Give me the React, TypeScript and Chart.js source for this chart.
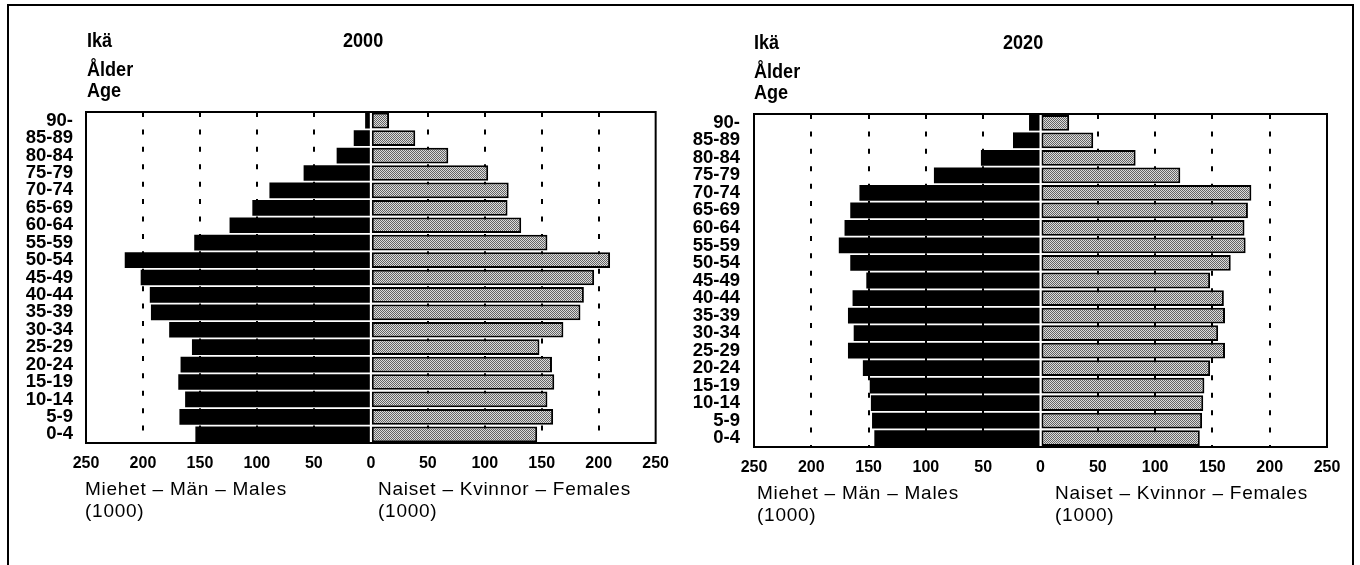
import React, { useEffect, useRef } from "react";
import { Chart, registerables } from "chart.js";

Chart.register(...registerables);

// Age groups, top to bottom
const ageGroups = [
  "90-", "85-89", "80-84", "75-79", "70-74", "65-69", "60-64", "55-59", "50-54",
  "45-49", "40-44", "35-39", "30-34", "25-29", "20-24", "15-19", "10-14", "5-9", "0-4",
];

// Population (1000), 2000
const males2000 = [5, 15, 30, 59, 89, 104, 124, 155, 216, 202, 194, 193, 177, 157, 167, 169, 163, 168, 154];
const females2000 = [16, 39, 68, 103, 121, 120, 132, 155, 210, 196, 187, 184, 169, 148, 159, 161, 155, 160, 146];

// Population (1000), 2020
const males2020 = [10, 24, 52, 93, 158, 166, 171, 176, 166, 152, 164, 168, 163, 168, 155, 149, 148, 147, 145];
const females2020 = [25, 46, 83, 122, 184, 181, 178, 179, 166, 148, 160, 161, 155, 161, 148, 143, 142, 141, 139];

const axisMin = -250;
const axisMax = 250;
const axisStep = 50;

const SANS = "'Liberation Sans', Arial, Helvetica, sans-serif";

const boxPlugin = {
  id: "plotBox",
  afterDatasetsDraw(chart: any) {
    const { ctx, chartArea: a } = chart;
    ctx.save();
    ctx.lineWidth = 2;
    ctx.strokeStyle = "#000";
    ctx.strokeRect(a.left, a.top, a.right - a.left, a.bottom - a.top);
    ctx.restore();
  },
};

function makePattern(): CanvasPattern | string {
  const pc = document.createElement("canvas");
  pc.width = 2;
  pc.height = 2;
  const c = pc.getContext("2d");
  if (!c) return "#a8a8a8";
  c.fillStyle = "#dcdcdc";
  c.fillRect(0, 0, 2, 2);
  c.fillStyle = "#646464";
  c.fillRect(0, 0, 1, 1);
  c.fillRect(1, 1, 1, 1);
  const p = c.createPattern(pc, "repeat");
  return p || "#a8a8a8";
}

type PyrProps = {
  left: number;
  males: number[];
  females: number[];
  yAxisWidth: number;
  padTop: number;
  padRight: number;
  xAxisHeight: number;
  yLabelPad: number;
};

function Pyramid(props: PyrProps) {
  const ref = useRef<HTMLCanvasElement | null>(null);
  useEffect(() => {
    if (!ref.current) return;
    const pattern = makePattern();
    const chart = new Chart(ref.current, {
      type: "bar",
      data: {
        labels: ageGroups,
        datasets: [
          {
            label: "Males",
            data: props.males.map((v) => -v),
            backgroundColor: "#000",
            borderWidth: 0,
            barPercentage: 0.9,
            categoryPercentage: 1,
          },
          {
            label: "Females",
            data: props.females,
            backgroundColor: pattern as any,
            borderColor: "#000",
            borderWidth: 2,
            borderSkipped: false,
            barPercentage: 0.9,
            categoryPercentage: 1,
          },
        ],
      },
      options: {
        indexAxis: "y",
        responsive: false,
        animation: false,
        layout: { padding: { top: props.padTop, right: props.padRight, left: 0, bottom: 0 } },
        plugins: { legend: { display: false }, tooltip: { enabled: false } },
        scales: {
          x: {
            stacked: true,
            min: axisMin,
            max: axisMax,
            afterFit: (s: any) => {
              s.height = props.xAxisHeight;
            },
            ticks: {
              stepSize: axisStep,
              autoSkip: false,
              maxRotation: 0,
              padding: 11,
              color: "#000",
              font: { family: SANS, size: 16, weight: "bold" },
              callback: (v: any) => String(Math.abs(Number(v))),
            },
            grid: {
              drawTicks: false,
              lineWidth: 2,
              color: (c: any) => {
                const v = c.tick ? Math.abs(c.tick.value) : 0;
                return v > 0 && v < axisMax ? "#000" : "rgba(0,0,0,0)";
              },
            },
            border: { display: false, dash: [5, 12.42] },
          },
          y: {
            stacked: true,
            afterFit: (s: any) => {
              s.width = props.yAxisWidth;
            },
            ticks: {
              padding: props.yLabelPad,
              color: "#000",
              autoSkip: false,
              font: { family: SANS, size: 18.5, weight: "bold" },
            },
            grid: { display: false, drawTicks: false },
            border: { display: false },
          },
        },
      },
      plugins: [boxPlugin],
    } as any);
    return () => chart.destroy();
  }, []);
  return (
    <canvas
      ref={ref}
      width={680}
      height={565}
      style={{ position: "absolute", left: props.left, top: 0, width: 680, height: 565 }}
    />
  );
}

function Title(p: { x: number; y: number; children: React.ReactNode }) {
  return (
    <div
      style={{
        position: "absolute",
        left: p.x,
        top: p.y,
        fontFamily: SANS,
        fontSize: 21,
        lineHeight: "21px",
        fontWeight: "bold",
        whiteSpace: "nowrap",
        color: "#000",
        transform: "scaleX(0.86)",
        transformOrigin: "left top",
      }}
    >
      {p.children}
    </div>
  );
}

function Note(p: { x: number; y: number; children: React.ReactNode }) {
  return (
    <div
      style={{
        position: "absolute",
        left: p.x,
        top: p.y,
        fontFamily: SANS,
        fontSize: 19,
        lineHeight: "19px",
        letterSpacing: "0.75px",
        whiteSpace: "nowrap",
        color: "#000",
      }}
    >
      {p.children}
    </div>
  );
}

export default function App() {
  useEffect(() => {
    document.body.style.margin = "0";
    document.body.style.overflow = "hidden";
  }, []);
  return (
    <div style={{ position: "absolute", left: 0, top: 0, width: 1360, height: 565, background: "#fff", overflow: "hidden" }}>
      <div
        style={{
          position: "absolute",
          left: 7,
          top: 4,
          width: 1347,
          height: 561,
          boxSizing: "border-box",
          borderLeft: "2px solid #000",
          borderTop: "2px solid #000",
          borderRight: "2px solid #000",
        }}
      />
      <Pyramid left={0} males={males2000} females={females2000} yAxisWidth={86} padTop={112} padRight={23} xAxisHeight={122} yLabelPad={13} />
      <Pyramid left={680} males={males2020} females={females2020} yAxisWidth={74} padTop={114} padRight={33} xAxisHeight={118} yLabelPad={14} />

      <Title x={87} y={29}>Ikä</Title>
      <Title x={87} y={58}>Ålder</Title>
      <Title x={87} y={79}>Age</Title>
      <Title x={343} y={29}>2000</Title>
      <Note x={85} y={479}>Miehet – Män – Males</Note>
      <Note x={85} y={501}>(1000)</Note>
      <Note x={378} y={479}>Naiset – Kvinnor – Females</Note>
      <Note x={378} y={501}>(1000)</Note>

      <Title x={754} y={31}>Ikä</Title>
      <Title x={754} y={60}>Ålder</Title>
      <Title x={754} y={81}>Age</Title>
      <Title x={1003} y={31}>2020</Title>
      <Note x={757} y={483}>Miehet – Män – Males</Note>
      <Note x={757} y={505}>(1000)</Note>
      <Note x={1055} y={483}>Naiset – Kvinnor – Females</Note>
      <Note x={1055} y={505}>(1000)</Note>
    </div>
  );
}
